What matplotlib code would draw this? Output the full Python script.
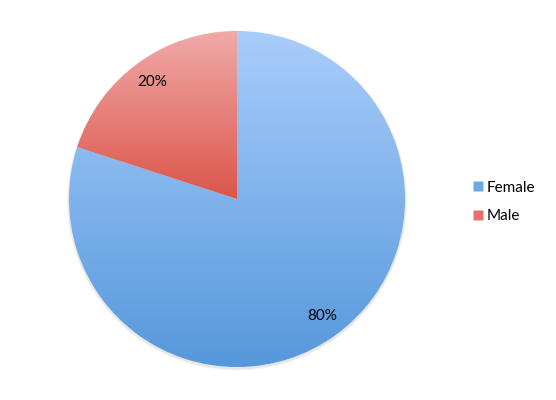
import numpy as np
import matplotlib.pyplot as plt
from matplotlib.colors import LinearSegmentedColormap
from matplotlib.lines import Line2D

plt.rcParams['font.family'] = ['Lato', 'DejaVu Sans']

# data
labels = ['Female', 'Male']
shares = [80, 20]

# gradient ends (top, bottom) per slice
grad_top = ['#a9cdfb', '#f0aaa8']
grad_bottom = ['#5698dc', '#dc554b']
legend_colors = ['#6fa8e8', '#e8716b']

fig = plt.figure(figsize=(5.56, 4), dpi=100)
ax = fig.add_axes([0, 0, 1, 1])

cx, cy, r = 237, 201, 168

# soft shadow
for k, a in zip([2, 1], [0.04, 0.06]):
    ax.add_patch(plt.Circle((cx, cy - 1.5), r + k, color='k', alpha=a, lw=0, zorder=0))

wedges, texts, autotexts = ax.pie(
    shares, center=(cx, cy), radius=r, startangle=90, counterclock=False,
    autopct='%d%%', pctdistance=0.86, frame=True,
    wedgeprops=dict(linewidth=0), textprops=dict(fontsize=11, color='black'))
ax.set_xlim(0, 556)
ax.set_ylim(0, 400)
ax.set_aspect('equal')
ax.axis('off')

grad = np.linspace(1, 0, 256).reshape(-1, 1)
for w, top, bot in zip(wedges, grad_top, grad_bottom):
    w.set_facecolor('none')
    # gradient spans each slice's own height
    ys = w.get_path().vertices[:, 1]
    y0, y1 = ys.min(), ys.max()
    cmap = LinearSegmentedColormap.from_list('g', [bot, top])
    im = ax.imshow(grad, cmap=cmap, extent=(cx - r, cx + r, y0, y1),
                   aspect='auto', origin='upper', zorder=1)
    im.set_clip_path(w)

for t in autotexts:
    t.set_zorder(3)

handles = [Line2D([], [], marker='s', linestyle='none', markersize=7,
                  markerfacecolor=c, markeredgecolor='none') for c in legend_colors]
fig.legend(handles, labels, loc='center left', bbox_to_anchor=(0.822, 0.495),
           frameon=False, fontsize=11, handletextpad=0.05, labelspacing=0.95,
           handlelength=1.0)

fig.savefig('out.png', dpi=100)
